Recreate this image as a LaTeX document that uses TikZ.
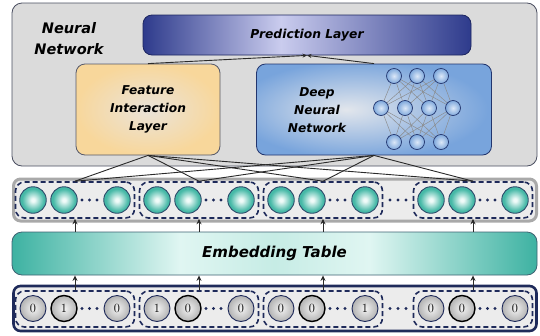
\documentclass[tikz,border=0pt]{standalone}
\usepackage{fontspec}
\newfontfamily\dv{DejaVu Sans}
\usetikzlibrary{arrows.meta,shapes.geometric}
\definecolor{nnfill}{HTML}{DBDBDB}
\definecolor{nnborder}{HTML}{4A4E60}
\definecolor{pdark}{HTML}{2E3B8C}
\definecolor{plight}{HTML}{CACCEE}
\definecolor{pborder}{HTML}{1D2660}
\definecolor{ficenter}{HTML}{EAE3D9}
\definecolor{fiedge}{HTML}{F8D79B}
\definecolor{fiborder}{HTML}{55586A}
\definecolor{dnncenter}{HTML}{E2E6EC}
\definecolor{dnnedge}{HTML}{78A4DC}
\definecolor{dnnborder}{HTML}{22356E}
\definecolor{neuin}{HTML}{DCE8F8}
\definecolor{neuout}{HTML}{7EA8DC}
\definecolor{navy}{HTML}{1E2A5A}
\definecolor{embin}{HTML}{F0FBF9}
\definecolor{embout}{HTML}{45B8A6}
\definecolor{eborder}{HTML}{2D4A6A}
\definecolor{rowfill}{HTML}{ECECEC}
\definecolor{rowgray}{HTML}{A9A9A9}
\definecolor{tteal}{HTML}{3DB2A2}
\definecolor{tlight}{HTML}{E0F6F2}
\definecolor{tmid}{HTML}{C6ECE5}
\definecolor{tborder}{HTML}{3E6272}
\definecolor{inin}{HTML}{F4F4F4}
\definecolor{inout}{HTML}{B2B2B2}
\definecolor{linec}{HTML}{2A2A2A}
\definecolor{netline}{HTML}{8A8A8A}
\pgfdeclarehorizontalshading{predsh}{100bp}{color(0bp)=(pdark); color(25bp)=(pdark); color(46bp)=(plight); color(75bp)=(pdark); color(100bp)=(pdark)}
\pgfdeclarehorizontalshading{tablesh}{100bp}{color(0bp)=(tteal); color(25bp)=(tteal); color(41bp)=(tlight); color(50bp)=(tmid); color(59bp)=(tlight); color(75bp)=(tteal); color(100bp)=(tteal)}
\pgfdeclareradialshading{fish}{\pgfpoint{0bp}{0bp}}{color(0bp)=(ficenter); color(25bp)=(fiedge); color(50bp)=(fiedge)}
\pgfdeclareradialshading{dnnsh}{\pgfpoint{-6bp}{0bp}}{color(0bp)=(dnncenter); color(27bp)=(dnnedge); color(50bp)=(dnnedge)}
\pgfdeclareradialshading{neush}{\pgfpoint{0bp}{0bp}}{color(0bp)=(neuin); color(25bp)=(neuout); color(50bp)=(neuout)}
\pgfdeclareradialshading{embsh}{\pgfpoint{0bp}{0bp}}{color(0bp)=(embin); color(3bp)=(embin); color(21bp)=(embout); color(50bp)=(embout)}
\pgfdeclareradialshading{insh}{\pgfpoint{0bp}{0bp}}{color(0bp)=(inin); color(25bp)=(inout); color(50bp)=(inout)}
\begin{document}
\begin{tikzpicture}[x=1pt,y=-1pt,
  lbl/.style={font=\dv\bfseries\itshape\fontsize{12.2}{18}\selectfont, align=center, text=black},
  nnbox/.style={draw=nnborder, fill=nnfill, line width=0.8pt, rounded corners=10pt, inner sep=0pt},
  predbox/.style={draw=pborder, line width=0.8pt, rounded corners=9pt, shade, shading=predsh, inner sep=0pt,
     font=\dv\bfseries\itshape\fontsize{12.3}{14}\selectfont, minimum width=328pt, minimum height=40pt},
  fibox/.style={draw=fiborder, line width=0.8pt, rounded corners=9pt, shade, shading=fish, inner sep=0pt, lbl,
     minimum width=144pt, minimum height=91pt},
  dnnbox/.style={draw=dnnborder, line width=0.8pt, rounded corners=9pt, shade, shading=dnnsh, inner sep=0pt,
     minimum width=235pt, minimum height=91pt},
  neu/.style={circle, draw=dnnborder, line width=0.7pt, shade, shading=neush, minimum size=15pt, inner sep=0pt},
  nl/.style={draw=netline, line width=0.45pt},
  grp/.style={draw=navy, dash pattern=on 5pt off 3pt, line width=1.6pt, rounded corners=9pt,
     minimum width=119pt, minimum height=36pt, inner sep=0pt},
  eball/.style={circle, draw=eborder, line width=0.9pt, shade, shading=embsh, minimum size=26.5pt, inner sep=0pt},
  iball/.style={circle, draw=navy, line width=0.9pt, shade, shading=insh, minimum size=26pt, inner sep=0pt,
     font=\fontsize{12.5}{14}\selectfont},
  iballk/.style={iball, draw=black, line width=1.4pt},
  conn/.style={draw=linec, line width=0.9pt},
  arr/.style={draw=linec, line width=1pt, -{Stealth[length=5.5pt,width=5pt]}},
  parr/.style={draw=linec, line width=0.9pt, -{Stealth[length=4.5pt,width=4pt]}}
]
\useasboundingbox (0,0) rectangle (540,335);
% Neural network container
\node[nnbox, minimum width=525pt, minimum height=163pt] (nn) at (274.5,84.5) {};
\node[font=\dv\bfseries\itshape\fontsize{14.5}{21}\selectfont, align=center] (nntitle) at (69,39) {Neural\\Network};
\node[predbox] (pred) at (307,35) {Prediction Layer};
\node[fibox] (fi) at (148,109.5) {Feature\\Interaction\\Layer};
\node[dnnbox] (dnn) at (374,109.5) {};
\node[lbl] (dnntext) at (317,110) {Deep\\Neural\\Network};
% small network
\node[neu] (t1) at (394,76) {};
\node[neu] (t2) at (417,76) {};
\node[neu] (t3) at (441,76) {};
\node[neu] (m1) at (381,108) {};
\node[neu] (m2) at (405,108) {};
\node[neu] (m3) at (429,108) {};
\node[neu] (m4) at (453,108) {};
\node[neu] (b1) at (394,142) {};
\node[neu] (b2) at (417,142) {};
\node[neu] (b3) at (441,142) {};
\foreach \a in {t1,t2,t3,b1,b2,b3}{
  \foreach \b in {m1,m2,m3,m4}{
    \draw[nl] (\a) -- (\b);
  }
}
\draw[parr] (fi.north) -- (pred.south);
\draw[parr] (dnn.north) -- (pred.south);
% embedding row
\node[draw=rowgray, fill=rowfill, line width=3pt, rounded corners=7pt, minimum width=523pt, minimum height=42pt, inner sep=0pt] (erow) at (275,200) {};
% embedding table
\node[draw=tborder, line width=0.8pt, rounded corners=10pt, shade, shading=tablesh, minimum width=525pt, minimum height=43pt, inner sep=0pt,
  font=\dv\bfseries\itshape\fontsize{15}{18}\selectfont] (emb) at (274.5,253.5) {Embedding Table};
% input row
\node[draw=navy, fill=rowfill, line width=2.6pt, rounded corners=7pt, minimum width=523pt, minimum height=45pt, inner sep=0pt] (irow) at (275,308.5) {};
\foreach \g/\cx/\va/\vb/\vc in {1/75/0/1/0, 2/199/1/0/0, 3/323/0/0/1, 4/473/0/0/0}{
  \node[grp] (e\g) at (\cx,200) {};
  \node[eball] (e\g a) at (\cx-42,200) {};
  \node[eball] (e\g b) at (\cx-11,200) {};
  \node[eball] (e\g c) at (\cx+42,200) {};
  \node[grp] (i\g) at (\cx,309) {};
  \node[iball] (i\g a) at (\cx-42,308.5) {\va};
  \node[iballk] (i\g b) at (\cx-11,308.5) {\vb};
  \node[iball] (i\g c) at (\cx+42,308.5) {\vc};
  \foreach \dx in {7,14.5,22}{
    \fill[navy] (\cx+\dx,200) circle (1.7pt);
    \fill[navy] (\cx+\dx,308.5) circle (1.7pt);
  }
  \draw[arr] (emb.north -| e\g.south) -- (e\g.south);
  \draw[arr] (i\g.north) -- (emb.south -| i\g.north);
  \draw[conn] (fi.south) -- (e\g.north);
  \draw[conn] (dnn.south) -- (e\g.north);
}
\foreach \x in {390,398,406}{
  \fill[navy] (\x,200) circle (1.7pt);
  \fill[navy] (\x,308.5) circle (1.7pt);
}
\end{tikzpicture}
\end{document}
